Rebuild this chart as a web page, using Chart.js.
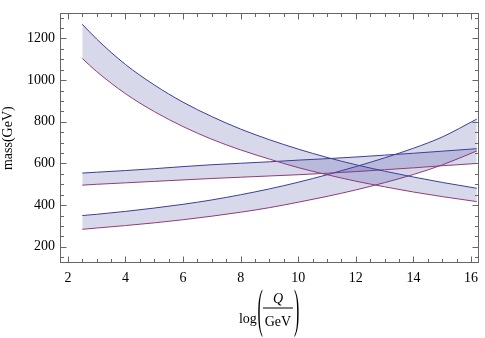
<!DOCTYPE html>
<html lang="en">
<head>
  <title>Running masses</title>
  <meta charset="utf-8">
  <script src="https://cdn.jsdelivr.net/npm/chart.js@4.4.1/dist/chart.umd.min.js"></script>
  <style>
    body { margin: 0; background: #fff; }
  </style>
</head>
<body>
<canvas id="massChart" width="485" height="338"></canvas>

<script>
  // x values, log(Q/GeV)
  const logQ = [2.5, 3, 4, 5, 6, 7, 8, 9, 10, 11, 12, 13, 14, 15, 16.2];

  // falling band
  const heavyUpper = [1268, 1197, 1075, 977, 894, 825, 765, 714, 669, 629, 594, 563, 535, 509, 481];
  const heavyLower = [1104, 1041, 935, 849, 777, 716, 665, 621, 580, 546, 515, 488, 463, 441, 417];
  // flat band
  const midUpper = [554, 558, 566, 575, 585, 594, 601, 608, 616, 623, 631, 640, 649, 659, 671];
  const midLower = [496, 500, 507, 514, 521, 528, 534, 540, 546, 553, 561, 570, 579, 589, 600];
  // rising band
  const lightUpper = [350, 356, 370, 386, 404, 425, 450, 478, 510, 546, 585, 627, 673, 727, 813];
  const lightLower = [284, 290, 302, 315, 330, 347, 366, 388, 414, 442, 473, 508, 547, 593, 660];

  const xTicks = [2, 4, 6, 8, 10, 12, 14, 16];
  const yTicks = [200, 400, 600, 800, 1000, 1200];

  const upperColour = '#3d3d99';
  const lowerColour = '#993d74';
  const fillColour = 'rgba(61,61,153,0.2)';
  const serif = '"Liberation Serif", "DejaVu Serif", serif';

  function pts(ys) {
    return logQ.map((x, i) => ({x: x, y: ys[i]}));
  }

  function bandSets(upper, lower) {
    return [
      {data: pts(upper), borderColor: upperColour, backgroundColor: fillColour, fill: '+1'},
      {data: pts(lower), borderColor: lowerColour, fill: false}
    ];
  }

  // frame with inward ticks on all four sides
  const framePlugin = {
    id: 'frame',
    afterDraw(chart) {
      const ctx = chart.ctx;
      const a = chart.chartArea;
      const x = chart.scales.x, y = chart.scales.y;
      const L = Math.round(a.left) + 0.5, R = Math.round(a.right) - 0.5;
      const T = Math.round(a.top) + 0.5, B = Math.round(a.bottom) - 0.5;
      ctx.save();
      ctx.strokeStyle = '#666';
      ctx.lineWidth = 1;
      ctx.strokeRect(L, T, R - L, B - T);
      ctx.beginPath();
      for (let v = 2; v <= 16; v += 0.5) {
        const px = Math.round(x.getPixelForValue(v)) + 0.5;
        const len = v % 2 === 0 ? 6 : 3.5;
        ctx.moveTo(px, B); ctx.lineTo(px, B - len);
        ctx.moveTo(px, T); ctx.lineTo(px, T + len);
      }
      for (let v = 150; v <= 1300; v += 50) {
        const py = Math.round(y.getPixelForValue(v)) + 0.5;
        const len = v % 200 === 0 ? 6 : 3.5;
        ctx.moveTo(L, py); ctx.lineTo(L + len, py);
        ctx.moveTo(R, py); ctx.lineTo(R - len, py);
      }
      ctx.stroke();
      ctx.restore();
    }
  };

  // x axis title: log( Q / GeV )
  const xTitlePlugin = {
    id: 'xTitle',
    afterDraw(chart) {
      const ctx = chart.ctx;
      const a = chart.chartArea;
      const left = (a.left + a.right) / 2 - 30.5;
      const fracY = 308;
      ctx.save();
      ctx.fillStyle = '#000';
      ctx.textBaseline = 'alphabetic';
      ctx.font = '14px ' + serif;
      ctx.textAlign = 'left';
      ctx.fillText('log', left, 323);

      function paren(ch, px) {
        ctx.save();
        ctx.translate(px, 313);
        ctx.scale(1, 3.3);
        ctx.font = '16px ' + serif;
        ctx.textAlign = 'left';
        ctx.fillText(ch, 0, 3.8);
        ctx.restore();
      }
      paren('(', left + 18.5);
      paren(')', left + 55);

      const fx0 = left + 24, fx1 = left + 54;
      ctx.fillRect(fx0, fracY - 0.5, fx1 - fx0, 1);
      ctx.textAlign = 'center';
      ctx.font = 'italic 14px ' + serif;
      ctx.fillText('Q', (fx0 + fx1) / 2, fracY - 5);
      ctx.font = '14px ' + serif;
      ctx.fillText('GeV', (fx0 + fx1) / 2, fracY + 18);
      ctx.restore();
    }
  };

  new Chart('massChart', {
    type: 'line',
    data: {
      datasets: [].concat(
        bandSets(heavyUpper, heavyLower),
        bandSets(midUpper, midLower),
        bandSets(lightUpper, lightLower)
      )
    },
    options: {
      responsive: false,
      animation: false,
      layout: {padding: {top: 1, right: 0, left: 0, bottom: 0}},
      elements: {
        point: {radius: 0},
        line: {borderWidth: 1, cubicInterpolationMode: 'monotone'}
      },
      plugins: {legend: {display: false}, tooltip: {enabled: false}},
      scales: {
        x: {
          type: 'linear',
          min: 1.726,
          max: 16.274,
          grid: {display: false, drawTicks: false},
          border: {display: false},
          afterBuildTicks: s => { s.ticks = xTicks.map(v => ({value: v})); },
          afterFit: s => { s.height = 75; },
          ticks: {color: '#000', padding: 7, font: {family: serif, size: 14}, maxRotation: 0,
                  callback: v => String(v)}
        },
        y: {
          min: 122.3,
          max: 1320.3,
          grid: {display: false, drawTicks: false},
          border: {display: false},
          afterBuildTicks: s => { s.ticks = yTicks.map(v => ({value: v})); },
          afterFit: s => { s.width = 60; },
          ticks: {color: '#000', padding: 5, font: {family: serif, size: 14}, callback: v => String(v)},
          title: {display: true, text: 'mass(GeV)', color: '#000', padding: 0, font: {family: serif, size: 14}}
        }
      }
    },
    plugins: [framePlugin, xTitlePlugin]
  });
</script>
</body>
</html>
